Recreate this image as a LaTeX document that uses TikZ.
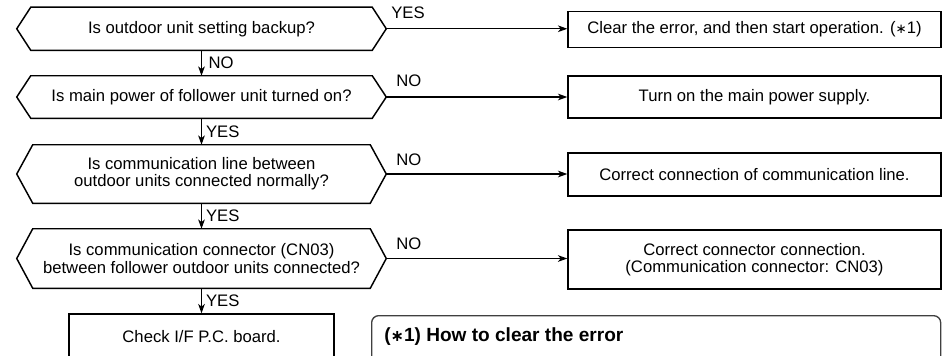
\documentclass[tikz,border=0pt]{standalone}
\usepackage{fontspec}
\setmainfont{Liberation Sans}
\newfontfamily\djv{DejaVu Sans}
\usetikzlibrary{arrows.meta}
\newcommand{\astsym}{{\djv\fontsize{10}{10}\selectfont ∗}}
\newcommand{\astbold}{{\djv\bfseries\fontsize{12}{12}\selectfont ∗}}
\newcommand{\hexout}[2]{%
  \draw[hexline] (#1.west) -- ([xshift=#2*0.75pt]#1.north west) -- ([xshift=-#2*0.75pt]#1.north east) -- (#1.east) -- ([xshift=-#2*0.75pt]#1.south east) -- ([xshift=#2*0.75pt]#1.south west) -- cycle;}
\begin{document}
\begin{tikzpicture}[x=0.75pt,y=-0.75pt,
  font=\fontsize{12.5}{12.8}\selectfont,
  hexn/.style={inner sep=0pt, align=center, minimum width=276.75pt},
  hexline/.style={line width=1.1pt, line join=miter},
  actbox/.style={draw, line width=1.1pt, inner sep=0pt, align=center, minimum width=279.75pt},
  flow/.style={line width=0.8pt, -{Stealth[length=7pt,width=5pt,inset=2pt]}},
  lbl/.style={inner sep=0pt, anchor=west},
  notebox/.style={draw=black!75, line width=1pt, rounded corners=5.25pt, inner sep=0pt, minimum width=426.75pt, minimum height=60pt, anchor=north west},
  titlefont/.style={font=\fontsize{14.3}{15}\selectfont\bfseries}
]
\useasboundingbox (0,0) rectangle (948,355);
\clip (0,0) rectangle (948,355);

% decisions
\node[hexn, minimum height=31.9pt] (q1) at (201.5,28.75) {Is outdoor unit setting backup?};
\node[hexn, minimum height=31.5pt] (q2) at (201.5,97) {Is main power of follower unit turned on?};
\node[hexn, minimum height=43.5pt] (q3) at (201.5,174) {Is communication line between\\outdoor units connected normally?};
\node[hexn, minimum height=44.25pt] (q4) at (201.5,258.5) {Is communication connector (CN03)\\between follower outdoor units connected?};
\hexout{q1}{14}
\hexout{q2}{14}
\hexout{q3}{16}
\hexout{q4}{16}

% actions
\node[actbox, minimum height=27pt] (b1) at (754.5,29.5) {Clear the error, and then start operation. (\astsym1)};
\node[actbox, minimum height=31.5pt] (b2) at (754.5,97) {Turn on the main power supply.};
\node[actbox, minimum height=32.25pt] (b3) at (754.5,174.5) {Correct connection of communication line.};
\node[actbox, minimum height=44.25pt] (b4) at (754.5,259.5) {Correct connector connection.\\(Communication connector: CN03)};

\node[draw, line width=1.1pt, inner sep=0pt, minimum width=198.75pt, minimum height=34.5pt] (chk) at (201.5,337) {Check I/F P.C. board.};

% horizontal connectors
\draw[flow] (q1.east) -- (q1.east -| b1.west);
\draw[flow] (q2.east) -- (q2.east -| b2.west);
\draw[flow] (q3.east) -- (q3.east -| b3.west);
\draw[flow] (q4.east) -- (q4.east -| b4.west);
\node[lbl] (l1) at (391,13) {YES};
\node[lbl] (l2) at (396,81) {NO};
\node[lbl] (l3) at (396,160) {NO};
\node[lbl] (l4) at (396,244) {NO};

% vertical connectors
\draw[flow] (q1.south) -- (q2.north) node[lbl, midway, xshift=5pt] (d1) {NO};
\draw[flow] (q2.south) -- (q3.north) node[lbl, midway, xshift=3pt] (d2) {YES};
\draw[flow] (q3.south) -- (q4.north) node[lbl, midway, xshift=3pt] (d3) {YES};
\draw[flow] (q4.south) -- (chk.north) node[lbl, midway, xshift=3pt] (d4) {YES};

% note box
\node[notebox] (note) at (371,315) {};
\node[titlefont, inner sep=0pt, anchor=west] (nt) at (384,337) {(\astbold1) How to clear the error};
\end{tikzpicture}
\end{document}
